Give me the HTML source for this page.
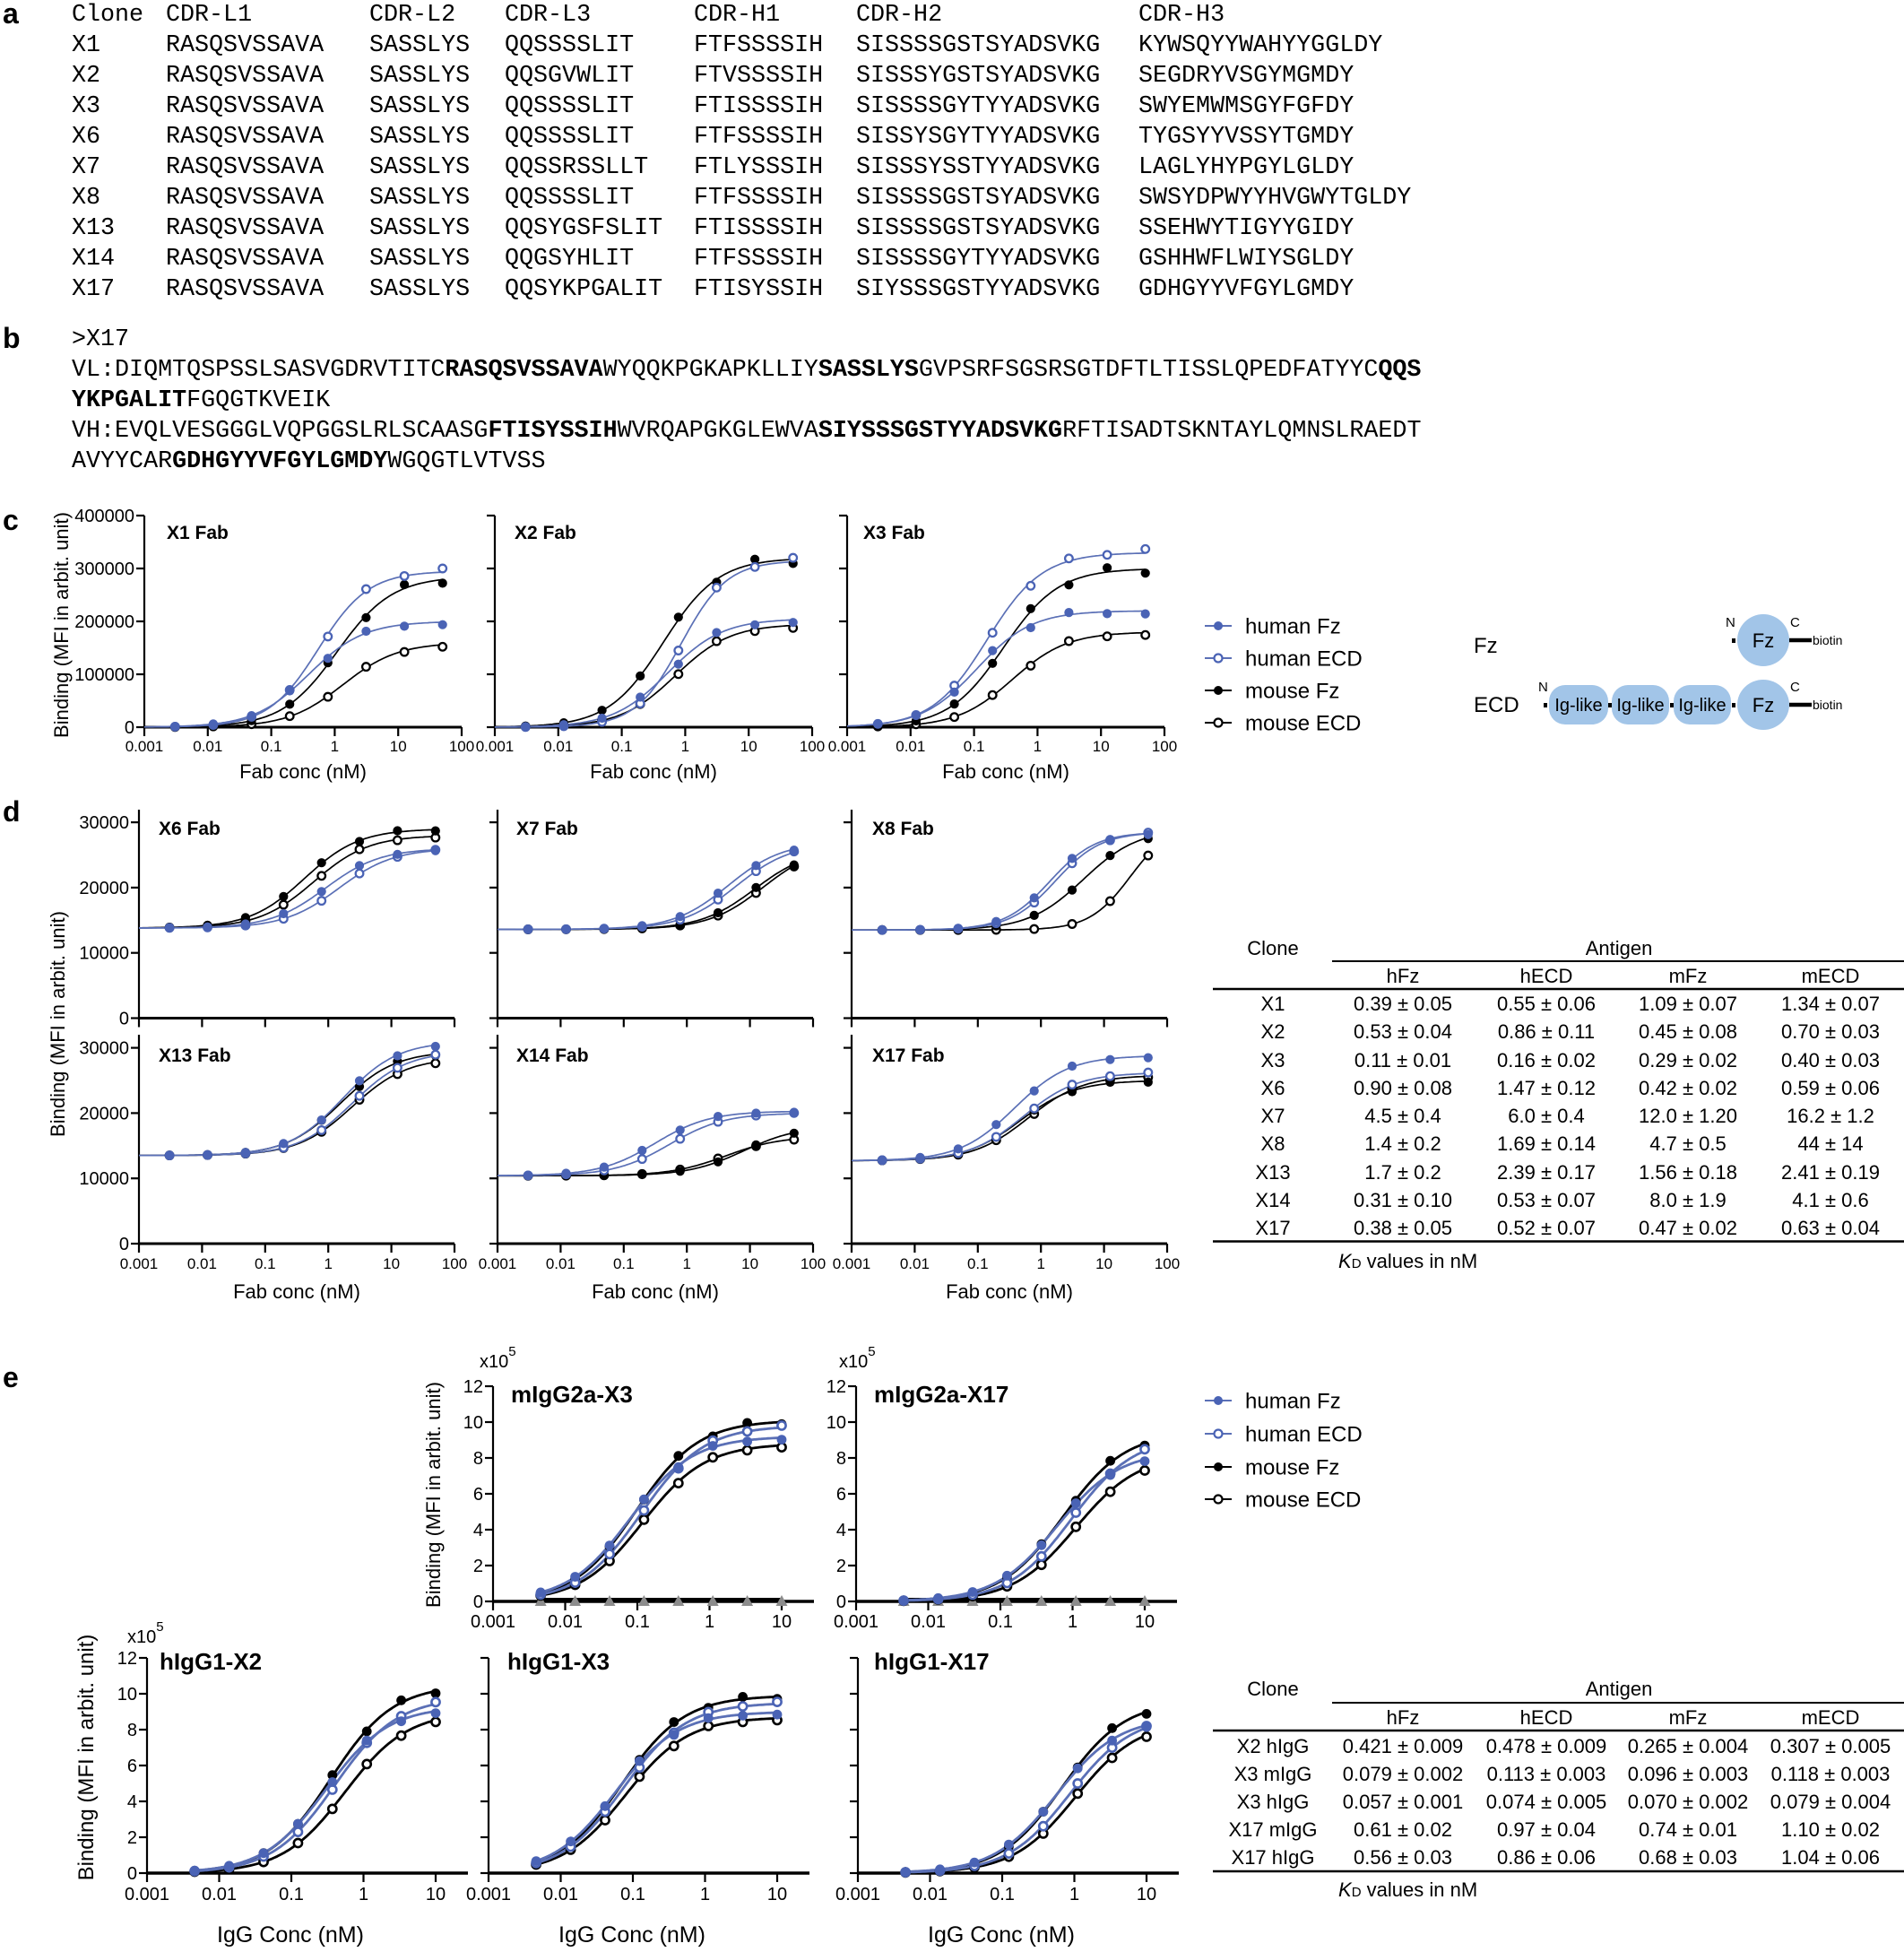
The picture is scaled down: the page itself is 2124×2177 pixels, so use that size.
<!DOCTYPE html>
<html><head><meta charset="utf-8"><title>Figure</title>
<style>
html,body{margin:0;padding:0;background:#fff;}
svg{display:block;}
text{fill:#000;}
</style></head>
<body>
<svg id="fig" xmlns="http://www.w3.org/2000/svg" width="2124" height="2177" viewBox="0 0 2124 2177" font-family="'Liberation Sans', Arial, sans-serif">
<rect x="0" y="0" width="2124" height="2177" fill="#fff"/>

<!-- panel letters -->
<g font-size="32" font-weight="bold">
<text x="3" y="26">a</text>
<text x="3" y="388">b</text>
<text x="3" y="591">c</text>
<text x="3" y="916">d</text>
<text x="3" y="1547">e</text>
</g>

<!-- panel a -->
<g font-family="'Liberation Mono', 'Courier New', monospace" font-size="26.7">
<text x="80" y="23">Clone</text><text x="185" y="23">CDR-L1</text><text x="412" y="23">CDR-L2</text><text x="563" y="23">CDR-L3</text><text x="774" y="23">CDR-H1</text><text x="955" y="23">CDR-H2</text><text x="1270" y="23">CDR-H3</text>
<text x="80" y="57">X1</text><text x="185" y="57">RASQSVSSAVA</text><text x="412" y="57">SASSLYS</text><text x="563" y="57">QQSSSSLIT</text><text x="774" y="57">FTFSSSSIH</text><text x="955" y="57">SISSSSGSTSYADSVKG</text><text x="1270" y="57">KYWSQYYWAHYYGGLDY</text>
<text x="80" y="91">X2</text><text x="185" y="91">RASQSVSSAVA</text><text x="412" y="91">SASSLYS</text><text x="563" y="91">QQSGVWLIT</text><text x="774" y="91">FTVSSSSIH</text><text x="955" y="91">SISSSYGSTSYADSVKG</text><text x="1270" y="91">SEGDRYVSGYMGMDY</text>
<text x="80" y="125">X3</text><text x="185" y="125">RASQSVSSAVA</text><text x="412" y="125">SASSLYS</text><text x="563" y="125">QQSSSSLIT</text><text x="774" y="125">FTISSSSIH</text><text x="955" y="125">SISSSSGYTYYADSVKG</text><text x="1270" y="125">SWYEMWMSGYFGFDY</text>
<text x="80" y="159">X6</text><text x="185" y="159">RASQSVSSAVA</text><text x="412" y="159">SASSLYS</text><text x="563" y="159">QQSSSSLIT</text><text x="774" y="159">FTFSSSSIH</text><text x="955" y="159">SISSYSGYTYYADSVKG</text><text x="1270" y="159">TYGSYYVSSYTGMDY</text>
<text x="80" y="193">X7</text><text x="185" y="193">RASQSVSSAVA</text><text x="412" y="193">SASSLYS</text><text x="563" y="193">QQSSRSSLLT</text><text x="774" y="193">FTLYSSSIH</text><text x="955" y="193">SISSSYSSTYYADSVKG</text><text x="1270" y="193">LAGLYHYPGYLGLDY</text>
<text x="80" y="227">X8</text><text x="185" y="227">RASQSVSSAVA</text><text x="412" y="227">SASSLYS</text><text x="563" y="227">QQSSSSLIT</text><text x="774" y="227">FTFSSSSIH</text><text x="955" y="227">SISSSSGSTSYADSVKG</text><text x="1270" y="227">SWSYDPWYYHVGWYTGLDY</text>
<text x="80" y="261">X13</text><text x="185" y="261">RASQSVSSAVA</text><text x="412" y="261">SASSLYS</text><text x="563" y="261">QQSYGSFSLIT</text><text x="774" y="261">FTISSSSIH</text><text x="955" y="261">SISSSSGSTSYADSVKG</text><text x="1270" y="261">SSEHWYTIGYYGIDY</text>
<text x="80" y="295">X14</text><text x="185" y="295">RASQSVSSAVA</text><text x="412" y="295">SASSLYS</text><text x="563" y="295">QQGSYHLIT</text><text x="774" y="295">FTFSSSSIH</text><text x="955" y="295">SISSSSGYTYYADSVKG</text><text x="1270" y="295">GSHHWFLWIYSGLDY</text>
<text x="80" y="329">X17</text><text x="185" y="329">RASQSVSSAVA</text><text x="412" y="329">SASSLYS</text><text x="563" y="329">QQSYKPGALIT</text><text x="774" y="329">FTISYSSIH</text><text x="955" y="329">SIYSSSGSTYYADSVKG</text><text x="1270" y="329">GDHGYYVFGYLGMDY</text>
</g>

<!-- panel b -->
<g font-family="'Liberation Mono', 'Courier New', monospace" font-size="26.7">
<text x="80" y="385">&gt;X17</text>
<text x="80" y="419">VL:DIQMTQSPSSLSASVGDRVTITC<tspan font-weight="bold">RASQSVSSAVA</tspan>WYQQKPGKAPKLLIY<tspan font-weight="bold">SASSLYS</tspan>GVPSRFSGSRSGTDFTLTISSLQPEDFATYYC<tspan font-weight="bold">QQS</tspan></text>
<text x="80" y="453"><tspan font-weight="bold">YKPGALIT</tspan>FGQGTKVEIK</text>
<text x="80" y="487">VH:EVQLVESGGGLVQPGGSLRLSCAASG<tspan font-weight="bold">FTISYSSIH</tspan>WVRQAPGKGLEWVA<tspan font-weight="bold">SIYSSSGSTYYADSVKG</tspan>RFTISADTSKNTAYLQMNSLRAEDT</text>
<text x="80" y="521">AVYYCAR<tspan font-weight="bold">GDHGYYVFGYLGMDY</tspan>WGQGTLVTVSS</text>
</g>

<!-- plots drawn by script -->
<g id="plot"></g>

<!-- panel c text -->
<g font-size="20" text-anchor="end">
<text x="150" y="818">0</text><text x="150" y="759">100000</text><text x="150" y="700">200000</text><text x="150" y="641">300000</text><text x="150" y="582">400000</text>
</g>
<g font-size="17" text-anchor="middle">
<text x="161" y="838">0.001</text><text x="231.8" y="838">0.01</text><text x="302.6" y="838">0.1</text><text x="373.4" y="838">1</text><text x="444.2" y="838">10</text><text x="515" y="838">100</text>
<text x="552" y="838">0.001</text><text x="622.8" y="838">0.01</text><text x="693.6" y="838">0.1</text><text x="764.4" y="838">1</text><text x="835.2" y="838">10</text><text x="906" y="838">100</text>
<text x="945" y="838">0.001</text><text x="1015.8" y="838">0.01</text><text x="1086.6" y="838">0.1</text><text x="1157.4" y="838">1</text><text x="1228.2" y="838">10</text><text x="1299" y="838">100</text>
</g>
<g font-size="22" text-anchor="middle">
<text x="338" y="868">Fab conc (nM)</text><text x="729" y="868">Fab conc (nM)</text><text x="1122" y="868">Fab conc (nM)</text>
</g>
<g font-size="21" font-weight="bold">
<text x="186" y="601">X1 Fab</text><text x="574" y="601">X2 Fab</text><text x="963" y="601">X3 Fab</text>
</g>
<text transform="translate(76,697) rotate(-90)" text-anchor="middle" font-size="22">Binding (MFI in arbit. unit)</text>

<!-- panel c legend -->
<g font-size="24">
<line x1="1344" y1="698" x2="1374" y2="698" stroke="#5b70b6" stroke-width="2"/><circle cx="1359" cy="698" r="5" fill="#4a63b5"/>
<text x="1389" y="706.5">human Fz</text>
<line x1="1344" y1="734" x2="1374" y2="734" stroke="#5b70b6" stroke-width="2"/><circle cx="1359" cy="734" r="4.5" fill="#fff" stroke="#4a63b5" stroke-width="2.2"/>
<text x="1389" y="742.5">human ECD</text>
<line x1="1344" y1="770" x2="1374" y2="770" stroke="#000" stroke-width="2"/><circle cx="1359" cy="770" r="5" fill="#000"/>
<text x="1389" y="778.5">mouse Fz</text>
<line x1="1344" y1="806" x2="1374" y2="806" stroke="#000" stroke-width="2"/><circle cx="1359" cy="806" r="4.5" fill="#fff" stroke="#000" stroke-width="2.2"/>
<text x="1389" y="814.5">mouse ECD</text>
</g>

<!-- diagram -->
<g>
<text x="1644" y="728" font-size="24">Fz</text>
<text x="1644" y="794" font-size="24">ECD</text>
<rect x="1932" y="712" width="4" height="5" fill="#000"/>
<ellipse cx="1967" cy="714" rx="29" ry="29" fill="#a2c5e8"/>
<text x="1967" y="722" font-size="22" text-anchor="middle">Fz</text>
<text x="1925" y="699" font-size="15">N</text>
<text x="1997" y="699" font-size="15">C</text>
<line x1="1996" y1="714" x2="2021" y2="714" stroke="#000" stroke-width="4.5"/>
<text x="2022" y="719" font-size="14">biotin</text>

<rect x="1722" y="784" width="4" height="5" fill="#000"/>
<rect x="1728" y="764" width="66" height="44" rx="18" ry="18" fill="#a2c5e8"/>
<rect x="1794" y="784" width="4" height="5" fill="#000"/>
<rect x="1798" y="764" width="64" height="44" rx="18" ry="18" fill="#a2c5e8"/>
<rect x="1863" y="784" width="4" height="5" fill="#000"/>
<rect x="1867" y="764" width="64" height="44" rx="18" ry="18" fill="#a2c5e8"/>
<rect x="1932" y="784" width="4" height="5" fill="#000"/>
<ellipse cx="1967" cy="786" rx="29" ry="28" fill="#a2c5e8"/>
<g font-size="20" text-anchor="middle">
<text x="1761" y="793">Ig-like</text><text x="1830" y="793">Ig-like</text><text x="1899" y="793">Ig-like</text>
</g>
<text x="1967" y="794" font-size="22" text-anchor="middle">Fz</text>
<text x="1716" y="771" font-size="15">N</text>
<text x="1997" y="771" font-size="15">C</text>
<line x1="1996" y1="786" x2="2021" y2="786" stroke="#000" stroke-width="4.5"/>
<text x="2022" y="791" font-size="14">biotin</text>
</g>

<!-- panel d text -->
<g font-size="20" text-anchor="end">
<text x="144" y="1142.5">0</text><text x="144" y="1069.7">10000</text><text x="144" y="996.9">20000</text><text x="144" y="924.1">30000</text>
<text x="144" y="1394">0</text><text x="144" y="1321.2">10000</text><text x="144" y="1248.4">20000</text><text x="144" y="1175.6">30000</text>
</g>
<g font-size="17" text-anchor="middle">
<text x="155" y="1415">0.001</text><text x="225.4" y="1415">0.01</text><text x="295.8" y="1415">0.1</text><text x="366.2" y="1415">1</text><text x="436.6" y="1415">10</text><text x="507" y="1415">100</text>
<text x="555" y="1415">0.001</text><text x="625.4" y="1415">0.01</text><text x="695.8" y="1415">0.1</text><text x="766.2" y="1415">1</text><text x="836.6" y="1415">10</text><text x="907" y="1415">100</text>
<text x="950" y="1415">0.001</text><text x="1020.4" y="1415">0.01</text><text x="1090.8" y="1415">0.1</text><text x="1161.2" y="1415">1</text><text x="1231.6" y="1415">10</text><text x="1302" y="1415">100</text>
</g>
<g font-size="22" text-anchor="middle">
<text x="331" y="1448">Fab conc (nM)</text><text x="731" y="1448">Fab conc (nM)</text><text x="1126" y="1448">Fab conc (nM)</text>
</g>
<g font-size="21" font-weight="bold">
<text x="177" y="931">X6 Fab</text><text x="576" y="931">X7 Fab</text><text x="973" y="931">X8 Fab</text>
<text x="177" y="1184">X13 Fab</text><text x="576" y="1184">X14 Fab</text><text x="973" y="1184">X17 Fab</text>
</g>
<text transform="translate(72,1142) rotate(-90)" text-anchor="middle" font-size="22">Binding (MFI in arbit. unit)</text>

<!-- table d -->
<g font-size="22" text-anchor="middle">
<text x="1420" y="1065">Clone</text>
<text x="1806" y="1065">Antigen</text>
<text x="1565" y="1096">hFz</text><text x="1725" y="1096">hECD</text><text x="1883" y="1096">mFz</text><text x="2042" y="1096">mECD</text>
<text x="1420" y="1127">X1</text><text x="1565" y="1127">0.39 ± 0.05</text><text x="1725" y="1127">0.55 ± 0.06</text><text x="1883" y="1127">1.09 ± 0.07</text><text x="2042" y="1127">1.34 ± 0.07</text>
<text x="1420" y="1158">X2</text><text x="1565" y="1158">0.53 ± 0.04</text><text x="1725" y="1158">0.86 ± 0.11</text><text x="1883" y="1158">0.45 ± 0.08</text><text x="2042" y="1158">0.70 ± 0.03</text>
<text x="1420" y="1190">X3</text><text x="1565" y="1190">0.11 ± 0.01</text><text x="1725" y="1190">0.16 ± 0.02</text><text x="1883" y="1190">0.29 ± 0.02</text><text x="2042" y="1190">0.40 ± 0.03</text>
<text x="1420" y="1221">X6</text><text x="1565" y="1221">0.90 ± 0.08</text><text x="1725" y="1221">1.47 ± 0.12</text><text x="1883" y="1221">0.42 ± 0.02</text><text x="2042" y="1221">0.59 ± 0.06</text>
<text x="1420" y="1252">X7</text><text x="1565" y="1252">4.5 ± 0.4</text><text x="1725" y="1252">6.0 ± 0.4</text><text x="1883" y="1252">12.0 ± 1.20</text><text x="2042" y="1252">16.2 ± 1.2</text>
<text x="1420" y="1283">X8</text><text x="1565" y="1283">1.4 ± 0.2</text><text x="1725" y="1283">1.69 ± 0.14</text><text x="1883" y="1283">4.7 ± 0.5</text><text x="2042" y="1283">44 ± 14</text>
<text x="1420" y="1315">X13</text><text x="1565" y="1315">1.7 ± 0.2</text><text x="1725" y="1315">2.39 ± 0.17</text><text x="1883" y="1315">1.56 ± 0.18</text><text x="2042" y="1315">2.41 ± 0.19</text>
<text x="1420" y="1346">X14</text><text x="1565" y="1346">0.31 ± 0.10</text><text x="1725" y="1346">0.53 ± 0.07</text><text x="1883" y="1346">8.0 ± 1.9</text><text x="2042" y="1346">4.1 ± 0.6</text>
<text x="1420" y="1377">X17</text><text x="1565" y="1377">0.38 ± 0.05</text><text x="1725" y="1377">0.52 ± 0.07</text><text x="1883" y="1377">0.47 ± 0.02</text><text x="2042" y="1377">0.63 ± 0.04</text>
</g>
<line x1="1486" y1="1072" x2="2124" y2="1072" stroke="#000" stroke-width="2"/>
<line x1="1353" y1="1103" x2="2124" y2="1103" stroke="#000" stroke-width="2.5"/>
<line x1="1353" y1="1384.5" x2="2124" y2="1384.5" stroke="#000" stroke-width="2.5"/>
<text x="1493" y="1414" font-size="22"><tspan font-style="italic">K</tspan><tspan font-size="15">D</tspan> values in nM</text>

<!-- panel e text -->
<g font-size="20" text-anchor="end">
<text x="539" y="1793">0</text><text x="539" y="1753">2</text><text x="539" y="1713">4</text><text x="539" y="1673">6</text><text x="539" y="1633">8</text><text x="539" y="1593">10</text><text x="539" y="1553">12</text>
<text x="944" y="1793">0</text><text x="944" y="1753">2</text><text x="944" y="1713">4</text><text x="944" y="1673">6</text><text x="944" y="1633">8</text><text x="944" y="1593">10</text><text x="944" y="1553">12</text>
<text x="153" y="2096">0</text><text x="153" y="2056">2</text><text x="153" y="2016">4</text><text x="153" y="1976">6</text><text x="153" y="1936">8</text><text x="153" y="1896">10</text><text x="153" y="1856">12</text>
</g>
<g font-size="20" text-anchor="middle">
<text x="550" y="1815">0.001</text><text x="630.5" y="1815">0.01</text><text x="711" y="1815">0.1</text><text x="791.5" y="1815">1</text><text x="872" y="1815">10</text>
<text x="955" y="1815">0.001</text><text x="1035.5" y="1815">0.01</text><text x="1116" y="1815">0.1</text><text x="1196.5" y="1815">1</text><text x="1277" y="1815">10</text>
<text x="164" y="2119">0.001</text><text x="244.5" y="2119">0.01</text><text x="325" y="2119">0.1</text><text x="405.5" y="2119">1</text><text x="486" y="2119">10</text>
<text x="545" y="2119">0.001</text><text x="625.5" y="2119">0.01</text><text x="706" y="2119">0.1</text><text x="786.5" y="2119">1</text><text x="867" y="2119">10</text>
<text x="957" y="2119">0.001</text><text x="1037.5" y="2119">0.01</text><text x="1118" y="2119">0.1</text><text x="1198.5" y="2119">1</text><text x="1279" y="2119">10</text>
</g>
<g font-size="25" text-anchor="middle">
<text x="324" y="2166">IgG Conc (nM)</text><text x="705" y="2166">IgG Conc (nM)</text><text x="1117" y="2166">IgG Conc (nM)</text>
</g>
<g font-size="20">
<text x="535" y="1525">x10<tspan font-size="15" dy="-13">5</tspan></text>
<text x="936" y="1525">x10<tspan font-size="15" dy="-13">5</tspan></text>
<text x="142" y="1832">x10<tspan font-size="15" dy="-13">5</tspan></text>
</g>
<g font-size="26" font-weight="bold">
<text x="570" y="1564">mIgG2a-X3</text><text x="975" y="1564">mIgG2a-X17</text>
<text x="178" y="1862">hIgG1-X2</text><text x="566" y="1862">hIgG1-X3</text><text x="975" y="1862">hIgG1-X17</text>
</g>
<text transform="translate(491,1667) rotate(-90)" text-anchor="middle" font-size="22">Binding (MFI in arbit. unit)</text>
<text transform="translate(104,1960) rotate(-90)" text-anchor="middle" font-size="24">Binding (MFI in arbit. unit)</text>

<!-- panel e legend -->
<g font-size="24">
<line x1="1344" y1="1562" x2="1374" y2="1562" stroke="#5b70b6" stroke-width="2"/><circle cx="1359" cy="1562" r="5" fill="#4a63b5"/>
<text x="1389" y="1570.5">human Fz</text>
<line x1="1344" y1="1599" x2="1374" y2="1599" stroke="#5b70b6" stroke-width="2"/><circle cx="1359" cy="1599" r="4.5" fill="#fff" stroke="#4a63b5" stroke-width="2.2"/>
<text x="1389" y="1607.5">human ECD</text>
<line x1="1344" y1="1636" x2="1374" y2="1636" stroke="#000" stroke-width="2"/><circle cx="1359" cy="1636" r="5" fill="#000"/>
<text x="1389" y="1644.5">mouse Fz</text>
<line x1="1344" y1="1672" x2="1374" y2="1672" stroke="#000" stroke-width="2"/><circle cx="1359" cy="1672" r="4.5" fill="#fff" stroke="#000" stroke-width="2.2"/>
<text x="1389" y="1680.5">mouse ECD</text>
</g>

<!-- table e -->
<g font-size="22" text-anchor="middle">
<text x="1420" y="1891">Clone</text>
<text x="1806" y="1891">Antigen</text>
<text x="1565" y="1923">hFz</text><text x="1725" y="1923">hECD</text><text x="1883" y="1923">mFz</text><text x="2042" y="1923">mECD</text>
<text x="1420" y="1955">X2 hIgG</text><text x="1565" y="1955">0.421 ± 0.009</text><text x="1725" y="1955">0.478 ± 0.009</text><text x="1883" y="1955">0.265 ± 0.004</text><text x="2042" y="1955">0.307 ± 0.005</text>
<text x="1420" y="1986">X3 mIgG</text><text x="1565" y="1986">0.079 ± 0.002</text><text x="1725" y="1986">0.113 ± 0.003</text><text x="1883" y="1986">0.096 ± 0.003</text><text x="2042" y="1986">0.118 ± 0.003</text>
<text x="1420" y="2017">X3 hIgG</text><text x="1565" y="2017">0.057 ± 0.001</text><text x="1725" y="2017">0.074 ± 0.005</text><text x="1883" y="2017">0.070 ± 0.002</text><text x="2042" y="2017">0.079 ± 0.004</text>
<text x="1420" y="2048">X17 mIgG</text><text x="1565" y="2048">0.61 ± 0.02</text><text x="1725" y="2048">0.97 ± 0.04</text><text x="1883" y="2048">0.74 ± 0.01</text><text x="2042" y="2048">1.10 ± 0.02</text>
<text x="1420" y="2079">X17 hIgG</text><text x="1565" y="2079">0.56 ± 0.03</text><text x="1725" y="2079">0.86 ± 0.06</text><text x="1883" y="2079">0.68 ± 0.03</text><text x="2042" y="2079">1.04 ± 0.06</text>
</g>
<line x1="1486" y1="1899" x2="2124" y2="1899" stroke="#000" stroke-width="2"/>
<line x1="1353" y1="1930" x2="2124" y2="1930" stroke="#000" stroke-width="2.5"/>
<line x1="1353" y1="2087" x2="2124" y2="2087" stroke="#000" stroke-width="2.5"/>
<text x="1493" y="2115" font-size="22"><tspan font-style="italic">K</tspan><tspan font-size="15">D</tspan> values in nM</text>
</svg>

<script>
(function(){
var NS='http://www.w3.org/2000/svg';
var root=document.getElementById('plot');
function mk(tag,a){var e=document.createElementNS(NS,tag);for(var k in a)e.setAttribute(k,a[k]);root.appendChild(e);return e;}
var BLUE='#4a63b5',BLUEC='#5b70b6',BLK='#000';
var N=[0,0.03,-0.025,0.035,-0.03,0.025,-0.02,-0.03,0.02];
function hill(x,s,b){var h=s.h||1;var xh=Math.pow(x,h);return b+(s.t-b)*xh/(xh+Math.pow(s.ec,h));}
function ext(a,b){var o={};for(var k in a)o[k]=a[k];for(var k2 in b)o[k2]=b[k2];return o;}
function panel(p){
  var X=function(c){return p.ax+(Math.log10(c)+3)*p.ppd;};
  var Y=function(v){return p.ay-v*p.ypu;};
  mk('line',{x1:p.ax,y1:p.ay+1,x2:p.ax,y2:p.ytop,stroke:'#000','stroke-width':2.2});
  p.yticks.forEach(function(v){var y=Y(v);mk('line',{x1:p.ax-9,y1:y,x2:p.ax,y2:y,stroke:'#000','stroke-width':2.2});});
  for(var k=0;k<=p.xdec;k++){var x=p.ax+k*p.ppd;mk('line',{x1:x,y1:p.ay,x2:x,y2:p.ay+10,stroke:'#000','stroke-width':2.2});}
  mk('line',{x1:p.ax-1,y1:p.ay,x2:p.ax+p.xlen,y2:p.ay,stroke:'#000','stroke-width':p.xw});
  if(p.tri){
    mk('line',{x1:X(p.concs[0]),y1:p.ay-1.5,x2:X(p.concs[p.concs.length-1]),y2:p.ay-1.5,stroke:'#000','stroke-width':5});
  }
  var styles=[{c:BLUEC,m:BLUE,f:true},{c:BLUEC,m:BLUE,f:false},{c:BLK,m:BLK,f:true},{c:BLK,m:BLK,f:false}];
  var order=[3,2,1,0];
  order.forEach(function(i){
    var s=p.series[i],st=styles[i],d='';
    var l0=Math.log10(p.c0),l1=Math.log10(p.c1);
    for(var j=0;j<=140;j++){var c=Math.pow(10,l0+(l1-l0)*j/140);d+=(j?'L':'M')+X(c).toFixed(1)+' '+Y(hill(c,s,p.b)).toFixed(1);}
    mk('path',{d:d,fill:'none',stroke:st.c,'stroke-width':p.lw,'stroke-linejoin':'round'});
  });
  if(p.tri){
    p.concs.forEach(function(c){var x=X(c),y=p.ay;mk('polygon',{points:(x-6.5)+','+(y+5)+' '+(x+6.5)+','+(y+5)+' '+x+','+(y-7),fill:'#8c8c8c'});});
  }
  order.forEach(function(i){
    var s=p.series[i],st=styles[i];
    p.concs.forEach(function(c,j){
      var base=hill(c,s,p.b);
      var v=base+N[(j+i*3)%9]*(base-p.b)*(p.nz||0.8);
      var x=X(c),y=Y(v);
      if(st.f)mk('circle',{cx:x.toFixed(1),cy:y.toFixed(1),r:p.r+0.8,fill:st.m});
      else mk('circle',{cx:x.toFixed(1),cy:y.toFixed(1),r:p.r,fill:'#fff',stroke:st.m,'stroke-width':p.sw});
    });
  });
}
function S(t,ec,h){return {t:t,ec:ec,h:h};}
var C4=[],C3=[];
for(var k=7;k>=0;k--){C4.push(50/Math.pow(4,k));C3.push(10/Math.pow(3,k));}

var cp={ay:811,ppd:70.8,ypu:0.00059,ytop:575,xlen:354,yticks:[0,1e5,2e5,3e5,4e5],xdec:5,xw:3,concs:C4,c0:0.001,c1:50,b:0,lw:1.7,r:4.3,sw:2.3};
panel(ext(cp,{ax:161,series:[S(2e5,.39),S(2.95e5,.55,1.1),S(2.85e5,1.09),S(1.6e5,1.34)]}));
panel(ext(cp,{ax:552,series:[S(2.05e5,.53),S(3.15e5,.86,1.2),S(3.2e5,.45),S(1.95e5,.7)]}));
panel(ext(cp,{ax:945,series:[S(2.2e5,.11),S(3.3e5,.16),S(3e5,.29),S(1.8e5,.4)]}));

var dp={ppd:70.4,ypu:0.00728,xlen:352,yticks:[0,1e4,2e4,3e4],xdec:5,xw:3,concs:C4,c0:0.001,c1:50,lw:1.7,r:4.3,sw:2.3,nz:0.4};
var dt={ay:1135.5,ytop:903}, db={ay:1387,ytop:1154};
panel(ext(ext(dp,dt),{ax:155,b:13800,series:[S(26000,.9),S(26000,1.47),S(29000,.42),S(28000,.59)]}));
panel(ext(ext(dp,dt),{ax:555,b:13600,series:[S(27000,4.5),S(26800,6),S(26000,12),S(26500,16.2)]}));
panel(ext(ext(dp,dt),{ax:950,b:13500,series:[S(28500,1.4,1.2),S(28500,1.69,1.2),S(29000,4.7),S(30000,26.4,1.33)]}));
panel(ext(ext(dp,db),{ax:155,b:13500,series:[S(31000,1.7),S(29500,2.39),S(29500,1.56),S(28500,2.41)]}));
panel(ext(ext(dp,db),{ax:555,b:10400,series:[S(20300,.31),S(20000,.53),S(18060,8),S(16460,4.1)]}));
panel(ext(ext(dp,db),{ax:950,b:12700,series:[S(28800,.38),S(26200,.52),S(25000,.47),S(25800,.63)]}));

var ep={ppd:80.5,ypu:20,xlen:358,yticks:[0,2,4,6,8,10,12],xdec:4,xw:3.5,concs:C3,c0:C3[0],c1:10,b:0,lw:2.8,r:4.6,sw:2.6,nz:0.4};
var et={ay:1786,ytop:1546,tri:true}, eb={ay:2089,ytop:1849};
panel(ext(ext(ep,et),{ax:550,series:[S(9.2,.079),S(9.8,.113),S(10.1,.096),S(8.8,.118)]}));
panel(ext(ext(ep,et),{ax:955,series:[S(8.4,.61),S(9.2,.97),S(9.45,.74),S(8.2,1.10)]}));
panel(ext(ext(ep,eb),{ax:164,series:[S(9.3,.3),S(9.8,.4),S(10.5,.35),S(9.0,.55)]}));
panel(ext(ext(ep,eb),{ax:545,series:[S(9.0,.057),S(9.5,.074),S(9.9,.07),S(8.7,.079)]}));
panel(ext(ext(ep,eb),{ax:957,series:[S(8.7,.56),S(8.8,.86),S(9.6,.68),S(8.5,1.04)]}));
})();
</script>
</body></html>
